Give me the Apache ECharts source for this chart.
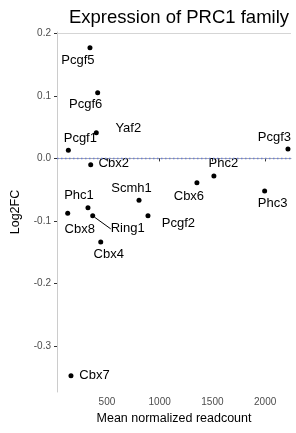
<!DOCTYPE html>
<html>
<head>
    <meta charset="utf-8">
    <title>Expression of PRC1 family</title>
    <script src="https://cdn.jsdelivr.net/npm/echarts@6/dist/echarts.min.js"></script>
    <style>
        html, body { margin: 0; padding: 0; background: #fff; }
        #main { width: 296px; height: 433px; }
    </style>
</head>
<body>
<div id="main"></div>
<script>
    var genes = ['Pcgf5', 'Pcgf6', 'Yaf2', 'Pcgf1', 'Cbx2', 'Phc1', 'Cbx8', 'Ring1', 'Cbx4', 'Scmh1', 'Pcgf2', 'Pcgf3', 'Phc2', 'Cbx6', 'Phc3', 'Cbx7'];
    var meanCount = [339, 412, 399, 134, 346, 320, 128, 365, 441, 804, 889, 2216, 1514, 1353, 1995, 159];
    var log2fc = [0.177, 0.105, 0.041, 0.013, -0.010, -0.079, -0.088, -0.092, -0.134, -0.067, -0.092, 0.015, -0.028, -0.039, -0.052, -0.348];
    var xTicks = [500, 1000, 1500, 2000];
    var yTicks = [-0.3, -0.2, -0.1, 0.0, 0.1, 0.2];

    // where each label sits relative to its point (px)
    var labelShift = {
        Pcgf5: [-12, 13], Pcgf6: [-12, 12], Yaf2: [32, -4], Pcgf1: [12, -12],
        Cbx2: [23, -1], Phc1: [-9, -12.5], Cbx8: [12, 16], Ring1: [35, 13],
        Cbx4: [8, 12], Scmh1: [-7.5, -11.5], Pcgf2: [30.5, 8], Pcgf3: [-13.5, -12],
        Phc2: [9.5, -12], Cbx6: [-8, 13.4], Phc3: [8, 13], Cbx7: [23.5, 0]
    };

    var points = genes.map(function (g, i) {
        return {
            name: g,
            value: [meanCount[i], log2fc[i]],
            labelLine: { show: g === 'Ring1', lineStyle: { color: '#000', width: 1 } }
        };
    });

    var font = 'Liberation Sans, Arial, sans-serif';
    var chart = echarts.init(document.getElementById('main'));
    chart.setOption({
        animation: false,
        textStyle: { fontFamily: font },
        title: {
            text: 'Expression of PRC1 family',
            left: 174, top: 3, textAlign: 'center',
            textStyle: { fontSize: 18.5, fontWeight: 'normal', color: '#000', fontFamily: font }
        },
        grid: { left: 57, right: 5, top: 32, bottom: 41 },
        xAxis: {
            type: 'value', min: 26.5, max: 2245,
            name: 'Mean normalized readcount', nameLocation: 'middle', nameGap: 20,
            nameTextStyle: { fontSize: 12.5, color: '#000' },
            axisLine: { lineStyle: { color: '#aaaaaa', width: 1 } },
            axisTick: { show: true, length: 3, lineStyle: { color: '#333' }, customValues: xTicks },
            axisLabel: {
                fontSize: 10, color: '#4d4d4d', margin: 5, customValues: xTicks,
                formatter: function (v) { return String(v); }
            },
            splitLine: { show: false }
        },
        yAxis: {
            type: 'value', min: -0.374, max: 0.2024,
            name: 'Log2FC', nameLocation: 'middle', nameGap: 35,
            nameTextStyle: { fontSize: 12.5, color: '#000' },
            axisLine: { show: true, lineStyle: { color: '#cccccc', width: 1 } },
            axisTick: { show: true, length: 3, lineStyle: { color: '#333' }, customValues: yTicks },
            axisLabel: {
                fontSize: 10, color: '#4d4d4d', margin: 6, customValues: yTicks,
                formatter: function (v) { return v.toFixed(1); }
            },
            splitLine: { show: false }
        },
        series: [{
            type: 'scatter',
            symbolSize: 5,
            itemStyle: { color: '#000', opacity: 1 },
            data: points,
            label: {
                show: true, position: 'inside', formatter: '{b}',
                fontSize: 13, color: '#000', fontFamily: font
            },
            labelLayout: function (p) {
                var s = labelShift[genes[p.dataIndex]];
                return { dx: s[0], dy: s[1] };
            },
            markLine: {
                silent: true, symbol: 'none', label: { show: false },
                data: [
                    { yAxis: 0, lineStyle: { color: '#6a7fd8', type: [1.5, 2.5], width: 1.3 } },
                    { yAxis: 0.2, lineStyle: { color: '#d5d5d5', type: 'solid', width: 1 } }
                ]
            }
        }]
    });
</script>
</body>
</html>
